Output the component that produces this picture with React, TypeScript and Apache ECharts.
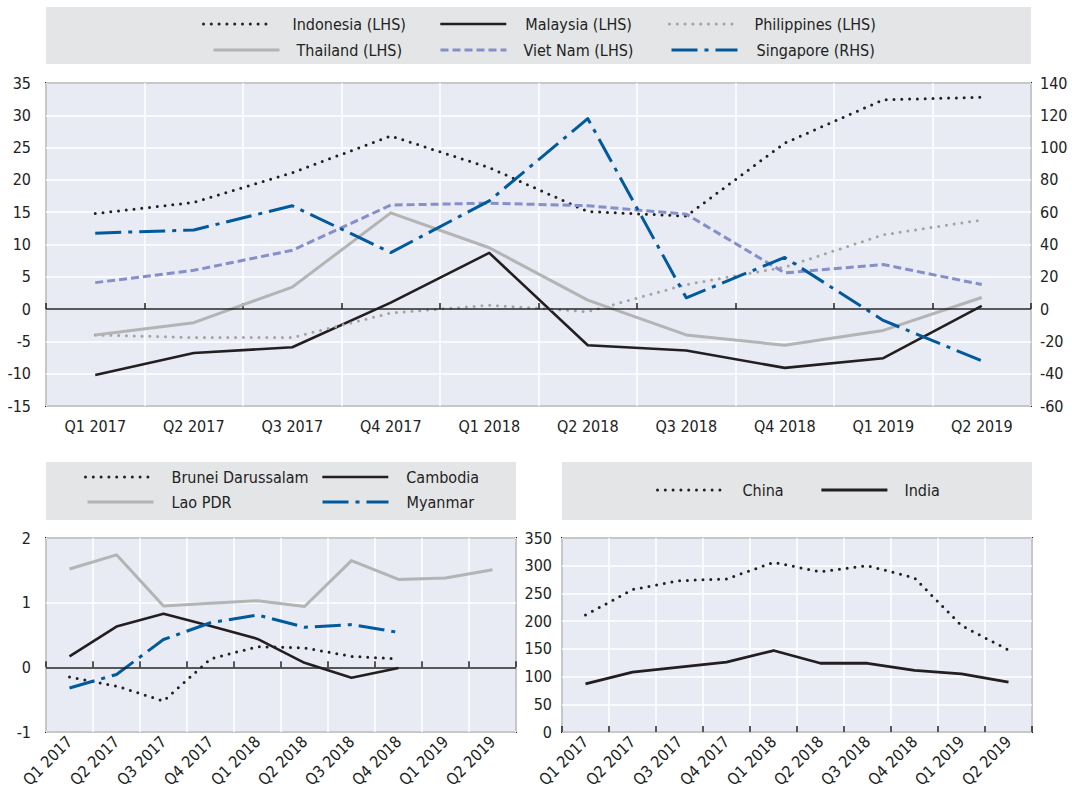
import React, { useEffect, useRef } from "react";
import * as echarts from "echarts";

const categories = ["Q1 2017", "Q2 2017", "Q3 2017", "Q4 2017", "Q1 2018", "Q2 2018", "Q3 2018", "Q4 2018", "Q1 2019", "Q2 2019"];

// Top panel (LHS)
const indonesia = [14.8, 16.5, 21.1, 26.8, 21.9, 15.1, 14.4, 25.7, 32.4, 32.8];
const malaysia = [-10.2, -6.8, -5.9, 1.0, 8.7, -5.6, -6.4, -9.1, -7.6, 0.5];
const philippines = [-4.0, -4.4, -4.4, -0.6, 0.6, -0.4, 3.8, 6.5, 11.5, 13.8];
const thailand = [-4.0, -2.1, 3.4, 14.9, 9.5, 1.4, -4.0, -5.6, -3.3, 1.8];
const vietnam = [4.1, 6.0, 9.1, 16.1, 16.4, 16.0, 14.7, 5.6, 6.9, 3.8];
// Top panel (RHS)
const singapore = [47, 49, 64, 35, 67, 118, 7, 32, -7, -32];

// Bottom-left panel
const brunei = [-0.15, -0.29, -0.52, 0.13, 0.32, 0.30, 0.17, 0.13, null, null];
const cambodia = [0.17, 0.63, 0.83, 0.64, 0.44, 0.07, -0.16, -0.01, null, null];
const lao = [1.52, 1.74, 0.95, 0.99, 1.03, 0.94, 1.65, 1.36, 1.38, 1.51];
const myanmar = [-0.32, -0.11, 0.43, 0.69, 0.81, 0.62, 0.66, 0.54, null, null];

// Bottom-right panel
const china = [211, 257, 273, 276, 306, 289, 300, 278, 192, 148];
const india = [87, 108, 117, 126, 147, 124, 124, 111, 105, 90];

const FONT = "'DejaVu Sans Condensed', 'Liberation Sans', sans-serif";
const FS = 16;
const TXT = "#222";
const PLOT_BG = "#e8eaf4";
const BOX_BG = "#e4e5e7";
const FRAME = "#222";

const BLACK = "#231f20";
const GREY_DOT = "#a3a3a3";
const GREY_LINE = "#b4b4b4";
const LAVENDER = "#8690c8";
const BLUE = "#005a9c";

const DOTTED = [0, 7.8];
const DASHED = [8, 4];
const DASHDOT = [26, 7, 4, 7];

function xAxis(gridIndex: number, rotate: number, margin: number) {
  return {
    type: "category",
    gridIndex,
    data: categories,
    boundaryGap: true,
    axisLine: { show: false },
    axisTick: { show: true, inside: true, length: 6, lineStyle: { color: FRAME, width: 1.5 } },
    splitLine: { show: true, lineStyle: { color: "#ffffff", width: 1.5 } },
    axisLabel: { show: true, interval: 0, rotate, margin, fontSize: FS, color: TXT, fontFamily: FONT },
  };
}

function yAxis(gridIndex: number, min: number, max: number, interval: number, position: string, margin: number, split: boolean) {
  return {
    type: "value",
    gridIndex,
    min,
    max,
    interval,
    position,
    axisLine: { show: false },
    axisTick: { show: false },
    splitLine: { show: split, lineStyle: { color: "#ffffff", width: 1.5 } },
    axisLabel: { fontSize: FS, color: TXT, fontFamily: FONT, margin },
  };
}

function line(name: string, data: (number | null)[], xi: number, yi: number, color: string, width: number, type: any, round = false, extra: any = {}) {
  return {
    name,
    type: "line",
    xAxisIndex: xi,
    yAxisIndex: yi,
    data,
    symbol: "none",
    connectNulls: false,
    lineStyle: { color, width, type, cap: round ? "round" : "butt", join: "round" },
    itemStyle: { color },
    ...extra,
  };
}

function zeroLine() {
  return {
    silent: true,
    symbol: "none",
    label: { show: false },
    lineStyle: { color: FRAME, width: 1.5, type: "solid" },
    data: [{ yAxis: 0 }],
  };
}

function legendItem(name: string, left: number, top: number, pad: number) {
  return {
    data: [name],
    left,
    top,
    orient: "horizontal",
    itemWidth: 66,
    itemHeight: 14,
    itemGap: 0,
    padding: 0,
    selectedMode: false,
    itemStyle: { opacity: 0 },
    lineStyle: { width: "inherit" },
    textStyle: { fontSize: FS, color: TXT, fontFamily: FONT, padding: [0, 0, 0, pad] },
  };
}

export default function App() {
  const ref = useRef<HTMLDivElement>(null);

  useEffect(() => {
    document.body.style.margin = "0";
    if (!ref.current) return;
    const chart = echarts.init(ref.current, undefined, { renderer: "svg" });

    const option: any = {
      animation: false,
      backgroundColor: "#ffffff",
      textStyle: { fontFamily: FONT },
      grid: [
        { left: 46, top: 83, width: 985, height: 323, show: true, backgroundColor: PLOT_BG, borderColor: FRAME, borderWidth: 2, outerBoundsMode: "none", containLabel: false },
        { left: 46, top: 538, width: 470, height: 194, show: true, backgroundColor: PLOT_BG, borderColor: FRAME, borderWidth: 2, outerBoundsMode: "none", containLabel: false },
        { left: 562, top: 538, width: 470, height: 194, show: true, backgroundColor: PLOT_BG, borderColor: FRAME, borderWidth: 2, outerBoundsMode: "none", containLabel: false },
      ],
      xAxis: [xAxis(0, 0, 12), xAxis(1, 45, 7), xAxis(2, 45, 7)],
      yAxis: [
        yAxis(0, -15, 35, 5, "left", 15, true),
        yAxis(0, -60, 140, 20, "right", 9, false),
        yAxis(1, -1, 2, 1, "left", 15, true),
        yAxis(2, 0, 350, 50, "left", 10, true),
      ],
      graphic: [
        { type: "rect", z: 0, silent: true, shape: { x: 46, y: 7, width: 985, height: 57 }, style: { fill: BOX_BG } },
        { type: "rect", z: 0, silent: true, shape: { x: 46, y: 462, width: 470, height: 58 }, style: { fill: BOX_BG } },
        { type: "rect", z: 0, silent: true, shape: { x: 562, y: 462, width: 470, height: 58 }, style: { fill: BOX_BG } },
      ],
      legend: [
        legendItem("Indonesia (LHS)", 202, 16, 18),
        legendItem("Malaysia (LHS)", 439, 16, 14),
        legendItem("Philippines (LHS)", 668, 16, 14),
        legendItem("Thailand (LHS)", 212, 42, 12),
        legendItem("Viet Nam (LHS)", 439, 42, 12),
        legendItem("Singapore (RHS)", 670, 42, 14),
        legendItem("Brunei Darussalam", 84, 469, 15),
        legendItem("Cambodia", 321, 469, 13),
        legendItem("Lao PDR", 86, 494, 13),
        legendItem("Myanmar", 321, 494, 13),
        legendItem("China", 656, 482, 14),
        legendItem("India", 820, 482, 12),
      ],
      series: [
        line("Indonesia (LHS)", indonesia, 0, 0, BLACK, 3, DOTTED, true, { markLine: zeroLine() }),
        line("Malaysia (LHS)", malaysia, 0, 0, BLACK, 2.6, "solid"),
        line("Philippines (LHS)", philippines, 0, 0, GREY_DOT, 3, DOTTED, true),
        line("Thailand (LHS)", thailand, 0, 0, GREY_LINE, 3, "solid"),
        line("Viet Nam (LHS)", vietnam, 0, 0, LAVENDER, 3, DASHED),
        line("Singapore (RHS)", singapore, 0, 1, BLUE, 3, DASHDOT),

        line("Brunei Darussalam", brunei, 1, 2, BLACK, 3, DOTTED, true, { markLine: zeroLine() }),
        line("Cambodia", cambodia, 1, 2, BLACK, 2.6, "solid"),
        line("Lao PDR", lao, 1, 2, GREY_LINE, 3, "solid"),
        line("Myanmar", myanmar, 1, 2, BLUE, 3, DASHDOT),

        line("China", china, 2, 3, BLACK, 3, DOTTED, true),
        line("India", india, 2, 3, BLACK, 2.8, "solid"),
      ],
    };

    chart.setOption(option);
    return () => {
      chart.dispose();
    };
  }, []);

  return <div ref={ref} style={{ width: 1072, height: 793 }} />;
}
